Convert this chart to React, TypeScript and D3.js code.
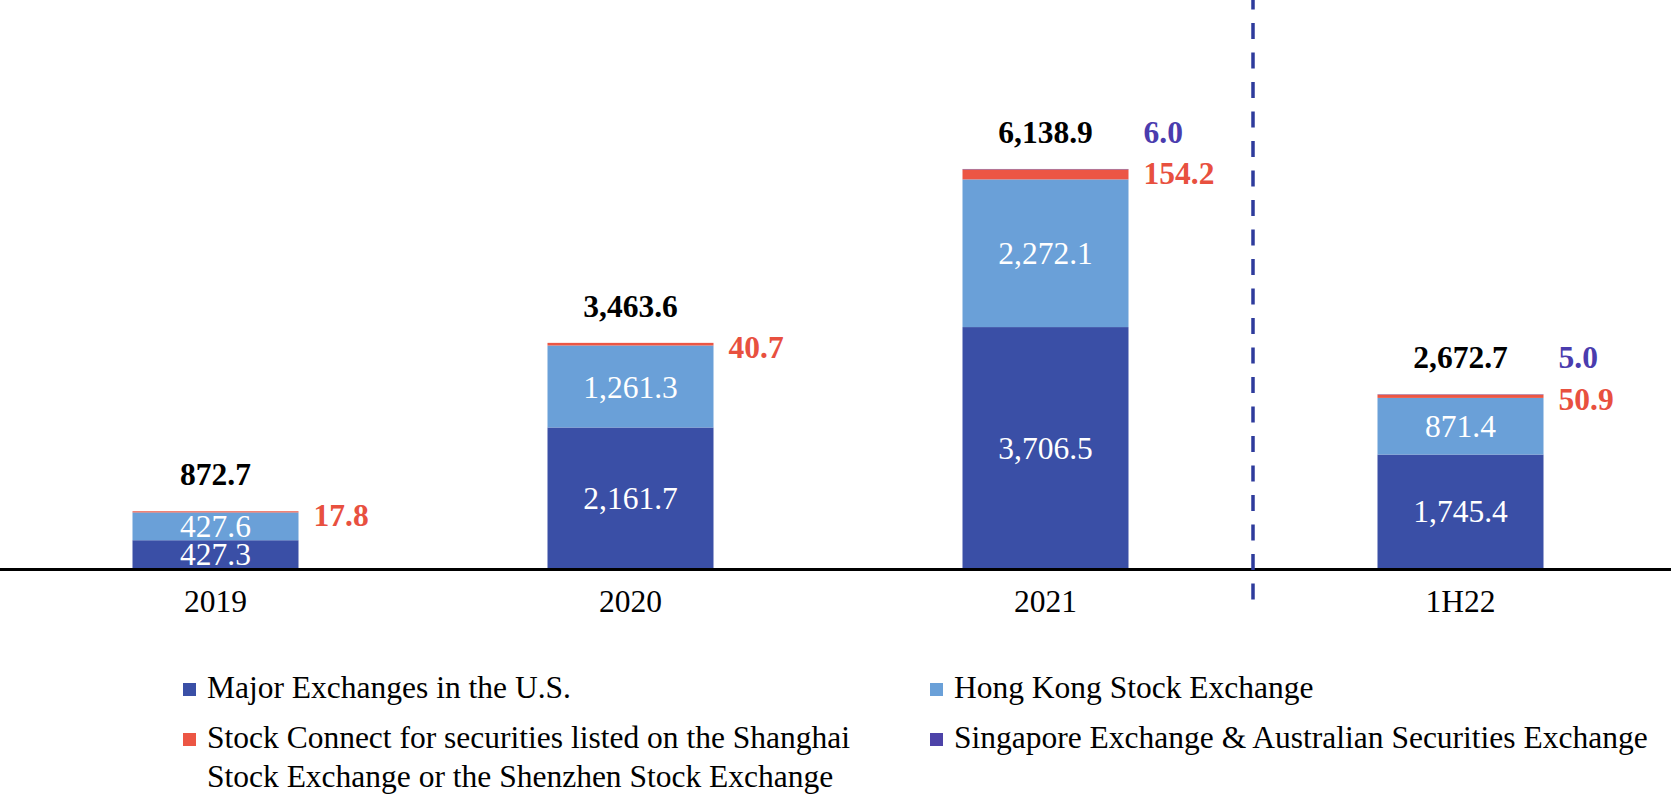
import React from "react";
import * as d3 from "d3";

const categories = ["2019", "2020", "2021", "1H22"];
const usValues = [427.3, 2161.7, 3706.5, 1745.4];
const hkValues = [427.6, 1261.3, 2272.1, 871.4];
const connectValues = [17.8, 40.7, 154.2, 50.9];
const sgxAsxValues = [0, 0, 6.0, 5.0];
const totals = [872.7, 3463.6, 6138.9, 2672.7];

const seriesKeys = ["us", "hk", "connect", "sgx"];
const seriesColors: Record<string, string> = {
  us: "#3a4fa6",
  hk: "#6aa0d8",
  connect: "#ec5644",
  sgx: "#4d43a8",
};
const labelColors: Record<string, string> = {
  connect: "#e8503f",
  sgx: "#4a3cae",
};
const legendItems = [
  { key: "us", lines: ["Major Exchanges in the U.S."] },
  { key: "hk", lines: ["Hong Kong Stock Exchange"] },
  {
    key: "connect",
    lines: [
      "Stock Connect for securities listed on the Shanghai",
      "Stock Exchange or the Shenzhen Stock Exchange",
    ],
  },
  { key: "sgx", lines: ["Singapore Exchange & Australian Securities Exchange"] },
];

const W = 1671;
const H = 799;
const FONT = "'Liberation Serif', 'Times New Roman', serif";
const FS = 31.5;
const fmt = d3.format(",.1f");

export default function App() {
  const rows = categories.map((c, i) => ({
    cat: c,
    us: usValues[i],
    hk: hkValues[i],
    connect: connectValues[i],
    sgx: sgxAsxValues[i],
  }));
  const stacked = d3.stack<any>().keys(seriesKeys)(rows);

  const x = d3
    .scaleBand<string>()
    .domain(categories)
    .range([8, 1668])
    .paddingInner(0.6)
    .paddingOuter(0.3);
  const y = d3.scaleLinear().domain([0, 8000]).range([568, 48]);
  const bw = x.bandwidth();
  const dividerX =
    (x("2021") as number) + bw + (x.step() * x.paddingInner()) / 2;

  return (
    <div style={{ position: "fixed", left: 0, top: 0 }}>
      <svg width={W} height={H} style={{ display: "block", background: "#fff" }}>
        {/* bars */}
        {stacked.map((s) => (
          <g key={s.key} fill={seriesColors[s.key]}>
            {s.map((d, i) => {
              const h = y(d[0]) - y(d[1]);
              if (h <= 0) return null;
              return (
                <rect
                  key={i}
                  x={x(categories[i])}
                  y={y(d[1])}
                  width={bw}
                  height={h}
                />
              );
            })}
          </g>
        ))}
        {/* inner labels */}
        {stacked
          .filter((s) => s.key === "us" || s.key === "hk")
          .map((s) =>
            s.map((d, i) => (
              <text
                key={s.key + i}
                x={(x(categories[i]) as number) + bw / 2}
                y={(y(d[0]) + y(d[1])) / 2}
                dy="0.35em"
                textAnchor="middle"
                fill="#fff"
                fontFamily={FONT}
                fontSize={FS}
              >
                {fmt(d[1] - d[0])}
              </text>
            ))
          )}
        {/* totals */}
        {totals.map((t, i) => (
          <text
            key={"t" + i}
            x={(x(categories[i]) as number) + bw / 2}
            y={y(t) - 26}
            textAnchor="middle"
            fill="#000"
            fontFamily={FONT}
            fontWeight="bold"
            fontSize={FS}
          >
            {fmt(t)}
          </text>
        ))}
        {/* stock connect labels */}
        {connectValues.map((v, i) => (
          <text
            key={"c" + i}
            x={(x(categories[i]) as number) + bw + 15}
            y={y(usValues[i] + hkValues[i] + v) + 4}
            dy="0.35em"
            fill={labelColors.connect}
            fontFamily={FONT}
            fontWeight="bold"
            fontSize={FS}
          >
            {fmt(v)}
          </text>
        ))}
        {/* sgx/asx labels */}
        {sgxAsxValues.map((v, i) =>
          v > 0 ? (
            <text
              key={"s" + i}
              x={(x(categories[i]) as number) + bw + 15}
              y={y(totals[i]) - 26}
              fill={labelColors.sgx}
              fontFamily={FONT}
              fontWeight="bold"
              fontSize={FS}
            >
              {fmt(v)}
            </text>
          ) : null
        )}
        {/* axis */}
        <line x1={0} x2={W} y1={569.5} y2={569.5} stroke="#000" strokeWidth={3} />
        {categories.map((c) => (
          <text
            key={"x" + c}
            x={(x(c) as number) + bw / 2}
            y={612}
            textAnchor="middle"
            fill="#000"
            fontFamily={FONT}
            fontSize={FS}
          >
            {c}
          </text>
        ))}
        {/* divider */}
        <line
          x1={dividerX}
          x2={dividerX}
          y1={-6.5}
          y2={613}
          stroke="#2e3b9c"
          strokeWidth={3.5}
          strokeDasharray="16 13.5"
        />
        {/* legend */}
        {legendItems.map((item, idx) => {
          const col = idx % 2;
          const row = Math.floor(idx / 2);
          const lx = col === 0 ? 183 : 930;
          const ly = row === 0 ? 683 : 733;
          return (
            <g key={item.key}>
              <rect x={lx} y={ly} width={13} height={13} fill={seriesColors[item.key]} />
              {item.lines.map((ln, j) => (
                <text
                  key={j}
                  x={lx + 24}
                  y={ly + 15 + j * 39}
                  fill="#000"
                  fontFamily={FONT}
                  fontSize={FS}
                >
                  {ln}
                </text>
              ))}
            </g>
          );
        })}
      </svg>
    </div>
  );
}
